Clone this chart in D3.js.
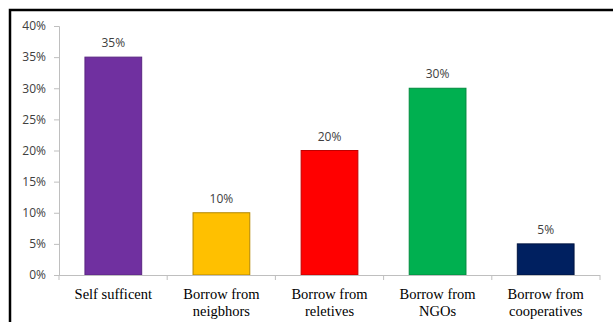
<!DOCTYPE html>
<html>
<head>
<meta charset="utf-8">
<script src="https://cdn.jsdelivr.net/npm/d3@7"></script>
<style>
  html, body { margin: 0; padding: 0; background: #fff; }
  svg { display: block; }
</style>
</head>
<body>
<svg id="chart" width="613" height="322"></svg>
<script>
// Sources of funds, share of respondents
const categories = ["Self sufficent", "Borrow from|neigbhors", "Borrow from|reletives", "Borrow from|NGOs", "Borrow from|cooperatives"];
const values = [35, 10, 20, 30, 5];
const colors = ["#7030A0", "#FFC000", "#FF0000", "#00B050", "#002060"];
const strokes = ["#5a2682", "#b38600", "#c00000", "#008a3e", "#001440"];
const yTicks = [0, 5, 10, 15, 20, 25, 30, 35, 40];

const svg = d3.select("#chart");

// frame around the chart area
svg.append("rect")
  .attr("x", 10).attr("y", 10)
  .attr("width", 613).attr("height", 330)
  .attr("fill", "none")
  .attr("stroke", "#000")
  .attr("stroke-width", 2.5);

const plotLeft = 59, plotRight = 600, plotTop = 26, plotBottom = 275;

const x = d3.scaleBand()
  .domain(categories)
  .range([plotLeft, plotRight])
  .paddingInner(0.475)
  .paddingOuter(0.24);

const y = d3.scaleLinear().domain([0, 40]).range([plotBottom, plotTop]);

// y axis
const yAxis = svg.append("g")
  .attr("transform", `translate(${plotLeft},0)`)
  .call(d3.axisLeft(y).tickValues(yTicks).tickFormat(d => d + "%").tickSize(5).tickPadding(8));
yAxis.select(".domain").attr("stroke", "#bfbfbf");
yAxis.selectAll(".tick line").attr("stroke", "#bfbfbf");
yAxis.selectAll(".tick text")
  .attr("fill", "#404040")
  .attr("font-family", "'Open Sans', sans-serif")
  .attr("font-size", 12);

// bars
svg.append("g").selectAll("rect")
  .data(values)
  .join("rect")
  .attr("x", (d, i) => x(categories[i]))
  .attr("width", x.bandwidth())
  .attr("y", d => y(d))
  .attr("height", d => y(0) - y(d))
  .attr("fill", (d, i) => colors[i])
  .attr("stroke", (d, i) => strokes[i])
  .attr("stroke-width", 1);

// value labels
svg.append("g").selectAll("text")
  .data(values)
  .join("text")
  .attr("x", (d, i) => x(categories[i]) + x.bandwidth() / 2)
  .attr("y", d => y(d) - 10)
  .attr("text-anchor", "middle")
  .attr("fill", "#404040")
  .attr("font-family", "'Open Sans', sans-serif")
  .attr("font-size", 12)
  .text(d => d + "%");

// x axis line with category boundary ticks
const bounds = d3.range(categories.length + 1).map(i => plotLeft + (plotRight - plotLeft) * i / categories.length);
svg.append("line")
  .attr("x1", plotLeft).attr("x2", plotRight)
  .attr("y1", plotBottom + 0.5).attr("y2", plotBottom + 0.5)
  .attr("stroke", "#bfbfbf");
svg.append("g").selectAll("line")
  .data(bounds)
  .join("line")
  .attr("x1", d => d).attr("x2", d => d)
  .attr("y1", plotBottom).attr("y2", plotBottom + 5)
  .attr("stroke", "#bfbfbf");

// category labels, two lines where split by "|"
const labels = svg.append("g").selectAll("text")
  .data(categories)
  .join("text")
  .attr("x", d => x(d) + x.bandwidth() / 2)
  .attr("y", 299)
  .attr("text-anchor", "middle")
  .attr("fill", "#000")
  .attr("font-family", "'Liberation Serif', 'Times New Roman', serif")
  .attr("font-size", 14.5);
labels.each(function(d) {
  const parts = d.split("|");
  d3.select(this).selectAll("tspan")
    .data(parts)
    .join("tspan")
    .attr("x", x(d) + x.bandwidth() / 2)
    .attr("dy", (p, j) => j === 0 ? 0 : 16.5)
    .text(p => p);
});
</script>
</body>
</html>
